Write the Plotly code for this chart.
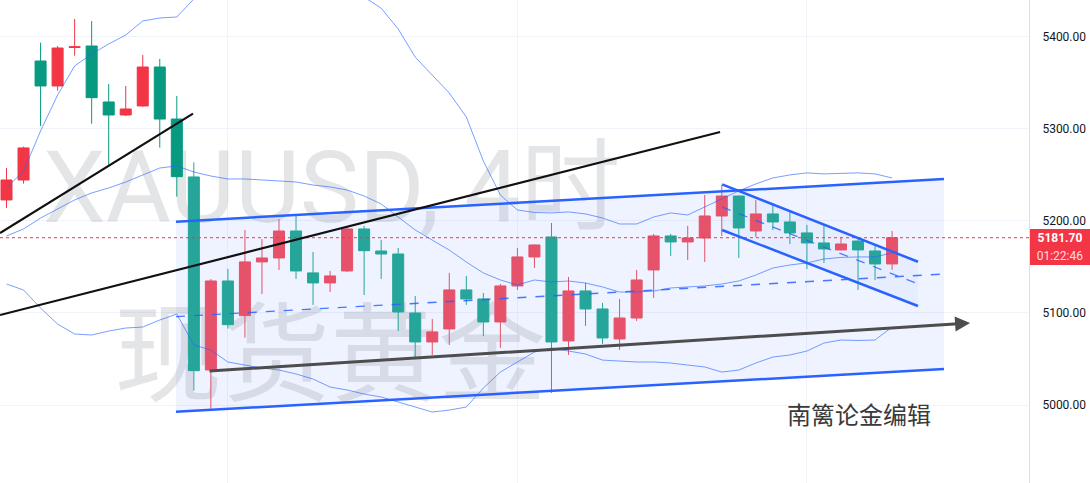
import plotly.graph_objects as go

# ---------------- data (XAUUSD 4H candles) ----------------
opens = [5222.7, 5244.4, 5373.6, 5346.5, 5388.3, 5389.9, 5329.1, 5315.0, 5324.8, 5367.1,
         5310.6, 5247.7, 5038.1, 5134.7, 5097.1, 5155.4, 5159.7, 5189.0, 5143.5, 5132.6,
         5145.6, 5191.2, 5167.3, 5164.0, 5099.9, 5068.5, 5082.6, 5125.0, 5115.2, 5090.2,
         5129.3, 5160.8, 5182.5, 5069.6, 5123.9, 5104.3, 5071.7, 5094.5, 5146.7, 5183.6,
         5177.1, 5181.4, 5205.3, 5227.0, 5189.0, 5207.5, 5198.8, 5186.9, 5176.0, 5168.4,
         5178.1, 5167.3, 5153.2]
highs = [5257.4, 5280.6, 5393.5, 5389.9, 5419.2, 5417.0, 5348.6, 5346.5, 5380.1, 5375.8,
         5335.6, 5263.6, 5136.9, 5147.8, 5190.1, 5180.3, 5202.0, 5205.3, 5166.2, 5145.6,
         5193.7, 5194.5, 5179.3, 5170.6, 5118.5, 5093.5, 5143.5, 5140.2, 5121.7, 5131.5,
         5170.6, 5174.5, 5197.7, 5139.1, 5132.6, 5110.9, 5115.2, 5146.7, 5185.8, 5185.8,
         5194.5, 5228.1, 5239.0, 5227.5, 5222.6, 5219.4, 5209.7, 5195.6, 5195.6, 5182.5,
         5181.4, 5173.8, 5189.0]
lows = [5214.0, 5240.4, 5303.0, 5341.4, 5379.4, 5305.5, 5259.9, 5313.9, 5323.8, 5279.5,
        5226.3, 5015.6, 4995.8, 5083.0, 5073.2, 5120.6, 5146.7, 5136.9, 5108.7, 5122.8,
        5144.5, 5119.5, 5136.9, 5080.4, 5051.2, 5054.4, 5065.2, 5108.7, 5075.0, 5062.0,
        5125.0, 5148.9, 5013.1, 5054.4, 5085.9, 5066.3, 5059.8, 5091.3, 5116.3, 5161.9,
        5157.5, 5155.4, 5183.6, 5159.7, 5182.5, 5190.1, 5174.9, 5147.8, 5154.3, 5168.0,
        5125.0, 5135.8, 5146.7]
closes = [5244.4, 5279.2, 5346.5, 5387.7, 5389.0, 5333.8, 5315.0, 5321.5, 5367.1, 5310.6,
          5248.0, 5037.3, 5134.7, 5087.3, 5155.4, 5159.7, 5189.0, 5145.6, 5132.6, 5140.2,
          5191.2, 5167.6, 5164.0, 5101.0, 5068.5, 5079.4, 5125.0, 5115.2, 5090.2, 5129.3,
          5160.8, 5173.8, 5068.5, 5123.9, 5104.3, 5072.8, 5094.5, 5135.8, 5183.6, 5177.1,
          5181.4, 5205.3, 5227.0, 5192.3, 5207.5, 5198.8, 5186.9, 5176.0, 5169.5, 5174.9,
          5168.4, 5153.2, 5181.7]

# Bollinger bands
bb_upper = [5235.7, 5254.1, 5297.6, 5336.7, 5368.2, 5381.2, 5392.1, 5401.8, 5417.1, 5420.3,
            5421.4, 5441.0, 5442.0, 5445.0, 5448.0, 5449.0, 5450.0, 5451.0, 5450.0, 5454.0,
            5451.0, 5443.0, 5431.0, 5408.4, 5377.8, 5358.4, 5338.8, 5312.8, 5265.0, 5228.0,
            5211.8, 5209.1, 5208.6, 5209.7, 5207.5, 5203.1, 5196.6, 5196.6, 5204.2, 5208.6,
            5206.4, 5215.1, 5223.8, 5232.5, 5240.1, 5246.6, 5249.9, 5252.1, 5251.0, 5251.5,
            5252.1, 5251.0, 5246.6]
bb_mid = [5183.6, 5191.2, 5203.1, 5212.9, 5222.7, 5230.3, 5235.7, 5242.2, 5249.8, 5257.4,
          5259.6, 5253.1, 5248.7, 5245.5, 5245.5, 5244.4, 5243.8, 5242.2, 5238.9, 5236.8,
          5233.5, 5227.0, 5218.3, 5204.2, 5190.1, 5179.1, 5168.3, 5155.3, 5143.4, 5135.8,
          5130.4, 5135.8, 5133.6, 5134.7, 5132.5, 5128.2, 5122.7, 5122.7, 5123.8, 5127.1,
          5128.2, 5129.3, 5131.4, 5134.7, 5141.2, 5148.8, 5152.1, 5154.3, 5158.6, 5160.3,
          5160.8, 5160.8, 5165.2]
bb_lower = [5131.4, 5124.9, 5105.3, 5087.9, 5077.1, 5076.0, 5080.3, 5083.6, 5084.7, 5092.3,
            5098.8, 5065.2, 5059.7, 5046.7, 5043.4, 5040.2, 5038.0, 5033.7, 5028.2, 5019.5,
            5016.3, 5011.9, 5008.7, 5003.2, 4997.8, 4992.4, 4994.5, 4997.8, 5018.4, 5035.8,
            5046.7, 5057.5, 5061.9, 5058.6, 5055.4, 5048.8, 5047.8, 5046.7, 5046.7, 5045.6,
            5043.4, 5041.3, 5035.8, 5038.0, 5045.6, 5052.1, 5054.3, 5058.6, 5067.3, 5070.6,
            5070.1, 5070.6, 5084.7]

# Drawings: (bar index, price) end points
trend_a = [(-0.38, 5186.8), (10.95, 5316.4)]
trend_b = [(-0.38, 5097.7), (41.90, 5296.5)]
arrow_line = [(11.83, 5036.9), (56.58, 5089.0)]
chan_up = [(9.95, 5199.1), (55.05, 5245.4)]
chan_lo = [(9.95, 4992.7), (55.05, 5039.1)]
down_up = [(42.02, 5239.7), (53.52, 5155.6)]
down_lo = [(42.02, 5190.1), (53.52, 5107.5)]

y_ticks = [5000, 5100, 5200, 5300, 5400]
x_grid = [13, 30, 47]
last_price = 5181.70
countdown = "01:22:46"
watermark_1 = "XAUUSD, 4时"
watermark_2 = "现货黄金"
author = "南篱论金编辑"

# ---------------- figure ----------------
X_RANGE = [-0.382, 60.04]
Y_RANGE = [4915.3, 5439.86]
BLUE = "#2962FF"
N = len(opens)
xs = list(range(N))
split = 11

fig = go.Figure()

def pts(seg):
    return [p[0] for p in seg], [p[1] for p in seg]

def mid(a, b):
    return [((a[i][0] + b[i][0]) / 2, (a[i][1] + b[i][1]) / 2) for i in range(2)]

# base subplot: channel fills + watermark (drawn beneath the candles)
for up, lo, col in [(chan_up, chan_lo, "rgba(41,98,255,0.08)"),
                    (down_up, down_lo, "rgba(41,98,255,0.04)")]:
    fig.add_trace(go.Scatter(
        x=[up[0][0], up[1][0], lo[1][0], lo[0][0], up[0][0]],
        y=[up[0][1], up[1][1], lo[1][1], lo[0][1], up[0][1]],
        fill="toself", fillcolor=col, mode="lines", line=dict(width=0),
        hoverinfo="skip", xaxis="x", yaxis="y"))

fig.add_trace(go.Scatter(
    x=[2.14], y=[5225.4], mode="text", text=[watermark_1], textposition="middle right",
    textfont=dict(family="Roboto, Noto Sans CJK SC", size=100, color="rgba(120,123,134,0.2)"),
    hoverinfo="skip", xaxis="x", yaxis="y"))
fig.add_trace(go.Scatter(
    x=[6.33], y=[5042.4], mode="text", text=[watermark_2], textposition="middle right",
    textfont=dict(family="Noto Sans CJK SC", size=108, color="rgba(120,123,134,0.2)"),
    hoverinfo="skip", xaxis="x", yaxis="y"))

# overlay subplot: candles, bands, drawings
fig.add_trace(go.Candlestick(
    x=xs[:split], open=opens[:split], high=highs[:split], low=lows[:split], close=closes[:split],
    increasing=dict(line=dict(color="#F23645", width=1), fillcolor="#F23645"),
    decreasing=dict(line=dict(color="#089981", width=1), fillcolor="#089981"),
    whiskerwidth=0, hoverinfo="skip", xaxis="x2", yaxis="y2"))
fig.add_trace(go.Candlestick(
    x=xs[split:], open=opens[split:], high=highs[split:], low=lows[split:], close=closes[split:],
    increasing=dict(line=dict(color="#E5526A", width=1), fillcolor="#E5526A"),
    decreasing=dict(line=dict(color="#26A69A", width=1), fillcolor="#26A69A"),
    whiskerwidth=0, hoverinfo="skip", xaxis="x2", yaxis="y2"))

for band in (bb_upper, bb_mid, bb_lower):
    fig.add_trace(go.Scatter(x=xs, y=band, mode="lines",
                             line=dict(color="rgba(41,98,255,0.62)", width=1),
                             hoverinfo="skip", xaxis="x2", yaxis="y2"))

# current price dotted line
fig.add_trace(go.Scatter(x=[X_RANGE[0], X_RANGE[1]], y=[last_price, last_price], mode="lines",
                         line=dict(color="#F23645", width=1, dash="dot"),
                         hoverinfo="skip", xaxis="x2", yaxis="y2"))

# channels
for seg, w, dash, col in [(chan_up, 2.5, "solid", BLUE), (chan_lo, 2.5, "solid", BLUE),
                          (mid(chan_up, chan_lo), 1.3, "dash", "rgba(41,98,255,0.85)"),
                          (down_up, 2.5, "solid", BLUE), (down_lo, 2.5, "solid", BLUE),
                          (mid(down_up, down_lo), 1.3, "dash", "rgba(41,98,255,0.8)")]:
    sx, sy = pts(seg)
    fig.add_trace(go.Scatter(x=sx, y=sy, mode="lines", line=dict(color=col, width=w, dash=dash),
                             hoverinfo="skip", xaxis="x2", yaxis="y2"))

# black trend lines
for seg in (trend_a, trend_b):
    sx, sy = pts(seg)
    fig.add_trace(go.Scatter(x=sx, y=sy, mode="lines", line=dict(color="#111111", width=2.2),
                             hoverinfo="skip", xaxis="x2", yaxis="y2"))

annotations = [
    dict(x=arrow_line[1][0], y=arrow_line[1][1], ax=arrow_line[0][0], ay=arrow_line[0][1],
         xref="x2", yref="y2", axref="x2", ayref="y2", text="", showarrow=True,
         arrowhead=2, arrowsize=1, arrowwidth=3, arrowcolor="#4D4D4D", standoff=0, startstandoff=0),
    dict(x=50.03, y=4991.3, xref="x2", yref="y2", text=author, showarrow=False,
         font=dict(family="Noto Sans CJK SC", size=24, color="#3A3A3A")),
    dict(x=1.0, xref="paper", xanchor="left", xshift=1, y=last_price, yref="y2", yanchor="middle",
         text="<b>%.2f</b>" % last_price, showarrow=False, bgcolor="#F23645",
         width=60, height=18, borderpad=0, borderwidth=0,
         font=dict(family="Roboto, Liberation Sans", size=12, color="#FFFFFF")),
    dict(x=1.0, xref="paper", xanchor="left", xshift=1, y=last_price, yref="y2", yanchor="middle",
         yshift=-18, text=countdown, showarrow=False, bgcolor="#F23645",
         width=60, height=18, borderpad=0, borderwidth=0,
         font=dict(family="Roboto, Liberation Sans", size=12, color="#FFDCE0")),
]

fig.update_layout(
    width=1090, height=483,
    margin=dict(l=0, r=61, t=0, b=0),
    paper_bgcolor="#FFFFFF", plot_bgcolor="#FFFFFF",
    showlegend=False, hovermode=False,
    boxmode="overlay", boxgap=0.353, boxgroupgap=0,
    xaxis=dict(range=X_RANGE, tickvals=x_grid, showticklabels=False, ticks="",
               showgrid=True, gridcolor="#F0F3FA", gridwidth=1, zeroline=False,
               showline=False, rangeslider=dict(visible=False), fixedrange=True),
    yaxis=dict(range=Y_RANGE, side="right", tickvals=y_ticks,
               ticktext=["%.2f" % v for v in y_ticks], ticks="", ticklabelstandoff=10,
               showgrid=True, gridcolor="#F0F3FA", gridwidth=1, zeroline=False,
               showline=True, linecolor="#DCDFE8", linewidth=1,
               tickfont=dict(family="Roboto, Liberation Sans", size=12, color="#131722"),
               fixedrange=True),
    xaxis2=dict(range=X_RANGE, overlaying="x", visible=False,
                rangeslider=dict(visible=False), fixedrange=True),
    yaxis2=dict(range=Y_RANGE, overlaying="y", side="right", visible=False, fixedrange=True),
    annotations=annotations,
)

fig.write_html("out.html", config={"displayModeBar": False},
               post_script="document.body.style.margin='0px';document.body.style.overflow='hidden';")
